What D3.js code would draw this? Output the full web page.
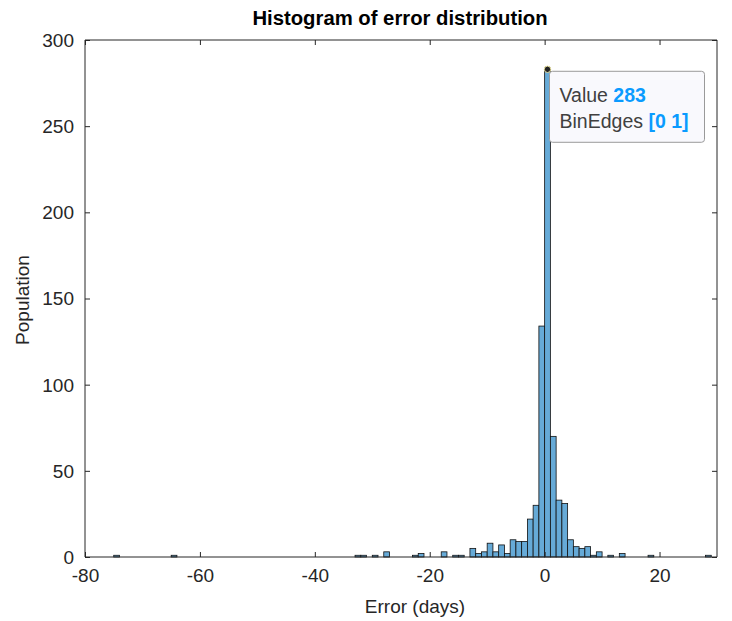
<!DOCTYPE html>
<html lang="en">
<head>
<meta charset="UTF-8">
<title>Histogram of error distribution</title>
<style>
  body { margin: 0; background: #fff; }
  svg { display: block; font-family: "Liberation Sans", Arial, sans-serif; }
  .tick text { fill: #262626; font-size: 19px; }
  .bar { fill: #66aad7; stroke: #111; stroke-width: 0.8; }
</style>
</head>
<body>
<svg id="chart" width="732" height="621"></svg>
<script src="https://d3js.org/d3.v7.min.js"></script>
<script>
// bins are 1 day wide, only non-empty bins listed (left edge -> count)
var binLefts = [-75, -65, -33, -32, -30, -28, -23, -22, -18, -16, -15, -13, -12, -11, -10, -9, -8, -7, -6, -5, -4, -3, -2, -1, 0, 1, 2, 3, 4, 5, 6, 7, 8, 9, 11, 13, 18, 28];
var counts   = [1, 1, 1, 1, 1, 3, 1, 2, 3, 1, 1, 5, 2, 3, 8, 3, 7, 2, 10, 9, 9, 22, 30, 134, 283, 70, 33, 31, 10, 6, 5, 6, 1, 3, 1, 2, 1, 1];
var xTicks = [-80, -60, -40, -20, 0, 20];
var yTicks = [0, 50, 100, 150, 200, 250, 300];

var svg = d3.select('#chart');
var pLeft = 85, pRight = 717, pTop = 40, pBottom = 557;
var axisColor = '#262626';

var x = d3.scaleLinear().domain([-80, 30]).range([pLeft, pRight]);
var y = d3.scaleLinear().domain([0, 300]).range([pBottom, pTop]);

var bins = binLefts.map(function(b, i){ return {x0: b, x1: b + 1, n: counts[i]}; });

svg.selectAll('rect.bar')
  .data(bins)
  .enter().append('rect')
  .attr('class', 'bar')
  .attr('x', d => x(d.x0))
  .attr('width', d => x(d.x1) - x(d.x0))
  .attr('y', d => y(d.n))
  .attr('height', d => y(0) - y(d.n));

// axes, ticks inward on all four sides
var fmt = d => String(d);
var gx = svg.append('g').attr('transform', 'translate(0,' + pBottom + ')')
  .call(d3.axisBottom(x).tickValues(xTicks).tickSize(-5).tickPadding(12).tickFormat(fmt));
var gxt = svg.append('g').attr('transform', 'translate(0,' + pTop + ')')
  .call(d3.axisTop(x).tickValues(xTicks).tickSize(-5).tickFormat(''));
var gy = svg.append('g').attr('transform', 'translate(' + pLeft + ',0)')
  .call(d3.axisLeft(y).tickValues(yTicks).tickSize(-5).tickPadding(11).tickFormat(fmt));
var gyr = svg.append('g').attr('transform', 'translate(' + pRight + ',0)')
  .call(d3.axisRight(y).tickValues(yTicks).tickSize(-5).tickFormat(''));

[gx, gxt, gy, gyr].forEach(function(g){
  g.select('.domain').attr('stroke', axisColor);
  g.selectAll('.tick line').attr('stroke', axisColor);
  g.selectAll('.tick text').attr('font-family', null).attr('font-size', null);
});
gx.select('.domain').attr('d', 'M' + pLeft + ',0H' + pRight);
gxt.select('.domain').attr('d', 'M' + pLeft + ',0H' + pRight);
gy.select('.domain').attr('d', 'M0,' + pBottom + 'V' + pTop);
gyr.select('.domain').attr('d', 'M0,' + pBottom + 'V' + pTop);
gy.selectAll('.tick text').attr('dy', '0.34em');

// titles
svg.append('text')
  .attr('x', 400).attr('y', 25)
  .attr('text-anchor', 'middle')
  .attr('font-size', 20.3).attr('font-weight', 'bold').attr('fill', '#000')
  .text('Histogram of error distribution');

svg.append('text')
  .attr('x', 415).attr('y', 613)
  .attr('text-anchor', 'middle')
  .attr('font-size', 19).attr('fill', axisColor)
  .text('Error (days)');

svg.append('text')
  .attr('transform', 'translate(29,300) rotate(-90)')
  .attr('text-anchor', 'middle')
  .attr('font-size', 19).attr('fill', axisColor)
  .text('Population');

// data tip on the peak bin
var peak = bins[counts.indexOf(d3.max(counts))];
var tipX = x((peak.x0 + peak.x1) / 2), tipY = y(peak.n);

var tip = svg.append('g');
tip.append('rect')
  .attr('x', tipX + 2).attr('y', tipY + 2)
  .attr('width', 155).attr('height', 71)
  .attr('rx', 3)
  .attr('fill', '#f9f9fd').attr('stroke', '#9a9a9a').attr('stroke-width', 1);

var t1 = tip.append('text').attr('x', tipX + 12).attr('y', tipY + 33).attr('font-size', 19.5).attr('fill', '#404040');
t1.append('tspan').text('Value ');
t1.append('tspan').attr('fill', '#0a9bff').attr('font-weight', 'bold').text(peak.n);

var t2 = tip.append('text').attr('x', tipX + 12).attr('y', tipY + 59).attr('font-size', 19.5).attr('fill', '#404040');
t2.append('tspan').text('BinEdges ');
t2.append('tspan').attr('fill', '#0a9bff').attr('font-weight', 'bold').text('[' + peak.x0 + ' ' + peak.x1 + ']');

tip.append('circle')
  .attr('cx', tipX).attr('cy', tipY).attr('r', 3.2)
  .attr('fill', '#222').attr('stroke', '#e8e0a0').attr('stroke-width', 1);
</script>
</body>
</html>
